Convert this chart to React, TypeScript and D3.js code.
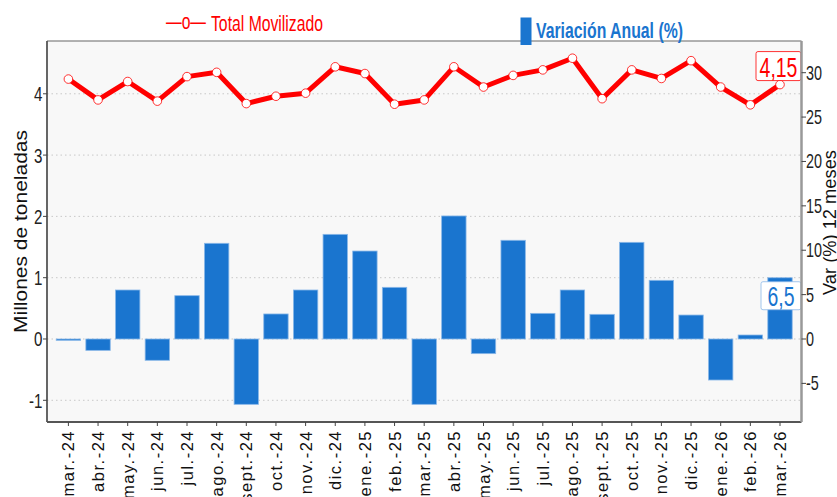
import React from 'react';
import * as d3 from 'd3';

const months = [
  'mar.-24', 'abr.-24', 'may.-24', 'jun.-24', 'jul.-24', 'ago.-24', 'sept.-24', 'oct.-24',
  'nov.-24', 'dic.-24', 'ene.-25', 'feb.-25', 'mar.-25', 'abr.-25', 'may.-25', 'jun.-25',
  'jul.-25', 'ago.-25', 'sept.-25', 'oct.-25', 'nov.-25', 'dic.-25', 'ene.-26', 'feb.-26', 'mar.-26',
];
const totalMovilizado = [
  4.24, 3.9, 4.2, 3.88, 4.28, 4.35, 3.84, 3.96, 4.01, 4.44, 4.33, 3.83, 3.9,
  4.44, 4.11, 4.3, 4.39, 4.58, 3.92, 4.39, 4.25, 4.54, 4.11, 3.82, 4.15,
];
const variacionAnual = [
  -0.15, -1.28, 5.52, -2.4, 4.88, 10.78, -7.36, 2.82, 5.52, 11.79, 9.91, 5.82, -7.36,
  13.86, -1.65, 11.12, 2.89, 5.52, 2.78, 10.89, 6.61, 2.7, -4.62, 0.45, 6.9,
];
const leftTicks = [-1, 0, 1, 2, 3, 4];
const rightTicks = [-5, 0, 5, 10, 15, 20, 25, 30];
const lastTotalLabel = '4,15';
const lastVarLabel = '6,5';

const SANS = '"Liberation Sans", Arial, Helvetica, sans-serif';
const SX = 0.72; // horizontal condensing of the narrow font

function NText(props: {
  x: number; y: number; size: number; fill: string; anchor?: string; weight?: string;
  children: React.ReactNode; sx?: number;
}) {
  const { x, y, size, fill, anchor = 'start', weight = 'normal', children, sx = SX } = props;
  return (
    <text
      transform={`translate(${x},${y}) scale(${sx},1)`}
      textAnchor={anchor}
      fontFamily={SANS}
      fontSize={size}
      fontWeight={weight}
      fill={fill}
    >
      {children}
    </text>
  );
}

export default function App() {
  const W = 837, H = 497;
  const px0 = 47, px1 = 801.5, py0 = 41, py1 = 422;

  const x = d3.scalePoint<string>().domain(months).range([68.4, 780]);
  const yL = d3.scaleLinear().domain([-1.354, 4.861]).range([py1, py0]);
  const yR = d3.scaleLinear().domain([-9.35, 33.57]).range([py1, py0]);
  const barW = 24.4;

  const line = d3.line<number>()
    .x((_, i) => x(months[i]) as number)
    .y((d) => yL(d));

  const lastI = months.length - 1;
  const lastX = x(months[lastI]) as number;
  const lastLineY = yL(totalMovilizado[lastI]);
  const lastBarY = yR(variacionAnual[lastI]);

  return (
    <svg width={W} height={H} style={{ position: 'absolute', left: 0, top: 0, background: '#fff' }}>
      {/* panel */}
      <rect x={px0} y={py0} width={px1 - px0} height={py1 - py0} fill="#f8f8f8" />
      {leftTicks.map((t) => (
        <line key={'g' + t} x1={px0} x2={px1} y1={yL(t)} y2={yL(t)} stroke="#c8c8c8" strokeWidth={1} strokeDasharray="1.5 3" />
      ))}
      {/* bars */}
      {variacionAnual.map((v, i) => (
        <rect
          key={'b' + i}
          x={(x(months[i]) as number) - barW / 2}
          y={Math.min(yR(v), yR(0))}
          width={barW}
          height={Math.abs(yR(v) - yR(0))}
          fill="#1a75cf"
          stroke="#8ab8e8"
          strokeWidth={0.8}
        />
      ))}
      {/* line */}
      <path d={line(totalMovilizado) || ''} fill="none" stroke="#ff0000" strokeWidth={5} strokeLinejoin="round" />
      {totalMovilizado.map((v, i) => (
        <circle key={'c' + i} cx={x(months[i]) as number} cy={yL(v)} r={4.3} fill="#fff" stroke="#ff0000" strokeWidth={0.8} />
      ))}
      {/* end labels */}
      <rect x={756} y={lastLineY - 33} width={45} height={29} rx={2} fill="#fff" stroke="#ff0000" strokeWidth={0.8} />
      <NText x={lastX - 1.5} y={lastLineY - 8} size={27} fill="#ff0000" anchor="middle">
        {lastTotalLabel}
      </NText>
      <rect x={761} y={lastBarY + 4} width={40} height={28} rx={2} fill="#fff" stroke="#8ab8e8" strokeWidth={0.8} />
      <NText x={lastX + 1} y={lastBarY + 28.5} size={27} fill="#1a75cf" anchor="middle">
        {lastVarLabel}
      </NText>
      {/* panel border */}
      <line x1={px0} x2={px1} y1={py0} y2={py0} stroke="#666" strokeWidth={1.2} />
      <line x1={px0} x2={px0} y1={py0} y2={py1} stroke="#555" strokeWidth={1.8} />
      <line x1={px0} x2={px1} y1={py1} y2={py1} stroke="#555" strokeWidth={1.8} />
      <line x1={px1} x2={px1} y1={py0} y2={py1} stroke="#999" strokeWidth={2.5} />
      {/* left axis */}
      {leftTicks.map((t) => (
        <g key={'l' + t}>
          <line x1={px0 - 4} x2={px0} y1={yL(t)} y2={yL(t)} stroke="#444" strokeWidth={1} />
          <NText x={px0 - 4.5} y={yL(t) + 7.5} size={21} fill="#222" anchor="end">
            {t}
          </NText>
        </g>
      ))}
      {/* right axis */}
      {rightTicks.map((t) => (
        <g key={'r' + t}>
          <line x1={px1} x2={px1 + 4.5} y1={yR(t)} y2={yR(t)} stroke="#444" strokeWidth={1} />
          <NText x={px1 + 4.5} y={yR(t) + 7} size={20} fill="#222" anchor="start">
            {t}
          </NText>
        </g>
      ))}
      {/* x axis */}
      {months.map((m) => {
        const xx = x(m) as number;
        return (
          <g key={'x' + m}>
            <line x1={xx} x2={xx} y1={py1} y2={py1 + 4} stroke="#444" strokeWidth={1} />
            <text
              transform={`translate(${xx + 6},${py1 + 8}) rotate(-90)`}
              textAnchor="end"
              fontFamily={SANS}
              fontSize={16.5}
              letterSpacing={1.5}
              fill="#111"
            >
              {m}
            </text>
          </g>
        );
      })}
      {/* axis titles */}
      <text
        transform="translate(26.5,231.5) rotate(-90)"
        textAnchor="middle"
        fontFamily={SANS}
        fontSize={17.5}
        textLength={203}
        lengthAdjust="spacingAndGlyphs"
        fill="#111"
      >
        Millones de toneladas
      </text>
      <text
        transform="translate(836,222.5) rotate(-90)"
        textAnchor="middle"
        fontFamily={SANS}
        fontSize={18.5}
        textLength={145}
        lengthAdjust="spacingAndGlyphs"
        fill="#111"
      >
        Var (%) 12 meses
      </text>
      {/* legends */}
      <text x={166} y={29} fontFamily={SANS} fontSize={22} textLength={40} lengthAdjust="spacingAndGlyphs" fill="#ff0000">
        —o—
      </text>
      <text x={211} y={30.5} fontFamily={SANS} fontSize={22} textLength={112} lengthAdjust="spacingAndGlyphs" fill="#ff0000">
        Total Movilizado
      </text>
      <rect x={520.5} y={17.5} width={11} height={27.5} fill="#1a75cf" />
      <text x={536} y={38.3} fontFamily={SANS} fontSize={22} fontWeight="bold" textLength={147} lengthAdjust="spacingAndGlyphs" fill="#1a75cf">
        Variación Anual (%)
      </text>
    </svg>
  );
}
